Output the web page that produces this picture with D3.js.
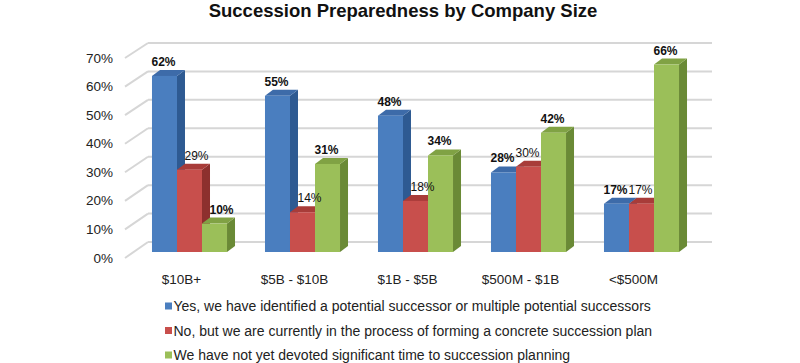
<!DOCTYPE html>
<html>
<head>
<meta charset="utf-8">
<script src="https://cdn.jsdelivr.net/npm/d3@7"></script>
<style>
  body { margin: 0; background: #fff; }
  svg { display: block; font-family: "Liberation Sans", Arial, sans-serif; }
</style>
</head>
<body>
<svg id="chart" width="800" height="363"></svg>
<script>
// data
const categories = ['$10B+', '$5B - $10B', '$1B - $5B', '$500M - $1B', '<$500M']
const seriesNames = [
  'Yes, we have identified a potential successor or multiple potential successors',
  'No, but we are currently in the process of forming a concrete succession plan',
  'We have not yet devoted significant time to succession planning'
]
const identified = [62, 55, 48, 28, 17]
const inProcess = [29, 14, 18, 30, 17]
const notYet = [10, 31, 34, 42, 66]
const yTicks = [0, 10, 20, 30, 40, 50, 60, 70]

const series = [identified, inProcess, notYet]
const colors = [
  { front: '#4a7ebf', side: '#2e5a92', top: '#3d6ba9' },
  { front: '#c84f4c', side: '#8d302e', top: '#a83c39' },
  { front: '#9bbf59', side: '#6a8a36', top: '#80a244' }
]
const boldLabel = [true, false, true]

const svg = d3.select('#chart')

// 3D offsets
const dx = 8, dy = -6

let xScale = d3.scaleBand().domain(categories).range([133, 698])
  .paddingInner(0.336).paddingOuter(0.168)
let xSub = d3.scaleBand().domain([0, 1, 2]).range([0, xScale.bandwidth()])
let yBar = d3.scaleLinear().domain([0, 70]).range([252, 53.2])
let yWallFront = d3.scaleLinear().domain([0, 70]).range([258, 58])
let yWallBack = d3.scaleLinear().domain([0, 70]).range([242, 43])

const wallLeft = 148, wallRight = 712, sideLeft = 125

// title
svg.append('text')
  .attr('x', 403).attr('y', 16.5)
  .attr('text-anchor', 'middle')
  .style('font-size', '18.5px').style('font-weight', 'bold').style('fill', '#111')
  .text('Succession Preparedness by Company Size')

// gridlines: back wall + left side wall
let grid = svg.append('g').attr('class', 'grid')
grid.selectAll('line.back').data(yTicks).enter()
  .append('line').attr('class', 'back')
  .attr('x1', wallLeft).attr('x2', wallRight)
  .attr('y1', d => yWallBack(d)).attr('y2', d => yWallBack(d))
  .style('stroke', '#d6d6d6').style('stroke-width', 2)
grid.selectAll('line.side').data(yTicks).enter()
  .append('line').attr('class', 'side')
  .attr('x1', sideLeft).attr('x2', wallLeft)
  .attr('y1', d => yWallFront(d)).attr('y2', d => yWallBack(d))
  .style('stroke', '#d6d6d6').style('stroke-width', 2)

// y tick labels
svg.append('g').selectAll('text').data(yTicks).enter()
  .append('text')
  .attr('x', 113).attr('y', d => yWallFront(d))
  .attr('text-anchor', 'end').attr('dominant-baseline', 'central')
  .style('font-size', '13.5px').style('fill', '#222')
  .text(d => d + '%')

// bars
let bars = svg.append('g').attr('class', 'bars')
categories.forEach((cat, i) => {
  let g = bars.append('g')
  series.forEach((vals, s) => {
    let v = vals[i]
    let x0 = xScale(cat) + xSub(s)
    let w = xSub.bandwidth()
    let yT = yBar(v), yB = yBar(0)
    let c = colors[s]
    g.append('polygon')
      .attr('points', [[x0 + w, yT], [x0 + w + dx, yT + dy], [x0 + w + dx, yB + dy], [x0 + w, yB]].join(' '))
      .style('fill', c.side)
    g.append('polygon')
      .attr('points', [[x0, yT], [x0 + dx, yT + dy], [x0 + w + dx, yT + dy], [x0 + w, yT]].join(' '))
      .style('fill', c.top)
    g.append('rect')
      .attr('x', x0).attr('y', yT)
      .attr('width', w).attr('height', yB - yT)
      .style('fill', c.front)
  })
})

// value labels
let labels = svg.append('g').attr('class', 'labels')
categories.forEach((cat, i) => {
  series.forEach((vals, s) => {
    let v = vals[i]
    // nudge right when the bar to the left is taller
    let shift = (s > 0 && series[s - 1][i] > v) ? dx : 0
    labels.append('text')
      .attr('x', xScale(cat) + xSub(s) + xSub.bandwidth() / 2 - 1 + shift)
      .attr('y', yBar(v) - 14)
      .attr('text-anchor', 'middle').attr('dominant-baseline', 'central')
      .style('font-size', '12px')
      .style('font-weight', boldLabel[s] ? 'bold' : 'normal')
      .style('fill', '#111')
      .text(v + '%')
  })
})

// category labels
svg.append('g').selectAll('text').data(categories).enter()
  .append('text')
  .attr('x', d => xScale(d) + xScale.bandwidth() / 2 - 8)
  .attr('y', 279)
  .attr('text-anchor', 'middle').attr('dominant-baseline', 'central')
  .style('font-size', '13.5px').style('fill', '#222')
  .text(d => d)

// legend
let legend = svg.append('g').attr('class', 'legend')
  .selectAll('g').data(seriesNames).enter()
  .append('g')
  .attr('transform', (d, i) => `translate(165, ${306 + i * 24.5})`)
legend.append('rect')
  .attr('x', 0).attr('y', -3.5).attr('width', 7).attr('height', 7)
  .style('fill', (d, i) => colors[i].front)
legend.append('text')
  .attr('x', 8.5).attr('y', 0)
  .attr('dominant-baseline', 'central')
  .style('font-size', '14px').style('fill', '#222')
  .text(d => d)
</script>
</body>
</html>
